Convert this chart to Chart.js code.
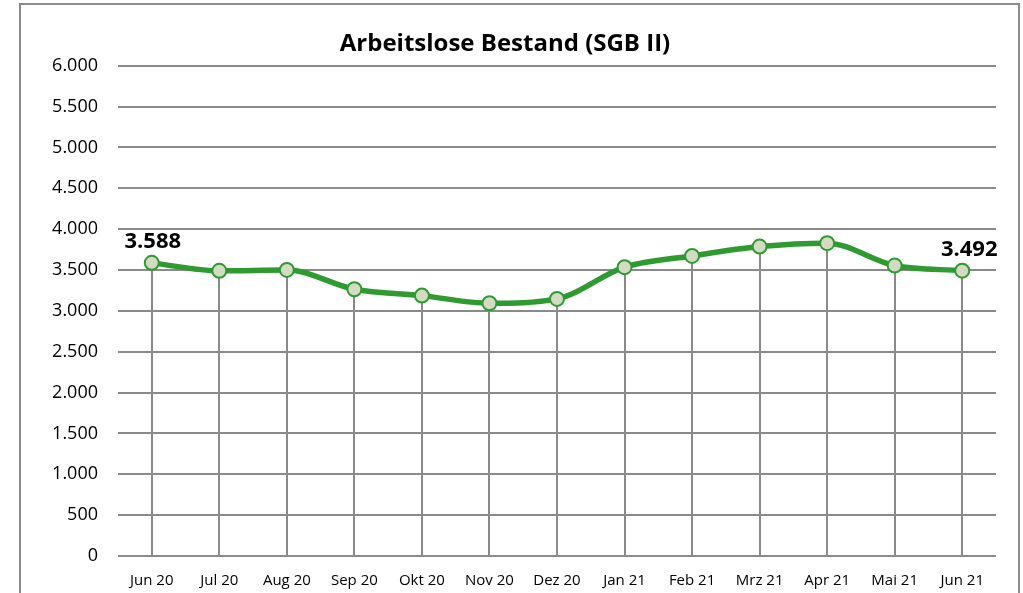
<!DOCTYPE html>
<html>
<head>
<meta charset="utf-8">
<script src="https://cdn.jsdelivr.net/npm/chart.js@4"></script>
<style>
  html, body { margin: 0; padding: 0; background: #fff; overflow: hidden; }
  #frame { position: absolute; left: 19px; top: 3px; width: 997px; height: 640px; border: 2px solid #8a8a8a; }
  #wrap { position: absolute; left: 0; top: 0; width: 1023px; height: 593px; }
</style>
</head>
<body>
<div id="frame"></div>
<div id="wrap"><canvas id="chart" width="1023" height="593"></canvas></div>
<script>
const monate = ['Jun 20', 'Jul 20', 'Aug 20', 'Sep 20', 'Okt 20', 'Nov 20', 'Dez 20', 'Jan 21', 'Feb 21', 'Mrz 21', 'Apr 21', 'Mai 21', 'Jun 21'];
const bestand = [3588, 3490, 3502, 3265, 3187, 3094, 3147, 3535, 3673, 3787, 3829, 3555, 3492];
const labelIndex = [0, 12];

const gridGrau = '#8a8a8a';
const gruen = '#2e9a30';

const fmt = v => v.toLocaleString('de-DE');

// Lotlinien von jedem Punkt bis zur x-Achse
const dropLines = {
    id: 'dropLines',
    beforeDatasetsDraw(chart) {
        const c = chart.ctx;
        const bottom = chart.chartArea.bottom;
        c.save();
        c.strokeStyle = gridGrau;
        c.lineWidth = 2;
        chart.getDatasetMeta(0).data.forEach(p => {
            c.beginPath();
            c.moveTo(Math.round(p.x), p.y);
            c.lineTo(Math.round(p.x), bottom);
            c.stroke();
        });
        c.restore();
    }
};

// Wertbeschriftung für ersten und letzten Monat
const valueLabels = {
    id: 'valueLabels',
    afterDatasetsDraw(chart) {
        const c = chart.ctx;
        const meta = chart.getDatasetMeta(0);
        c.save();
        c.font = 'bold 22px "Open Sans"';
        c.fillStyle = '#000';
        c.textAlign = 'center';
        c.textBaseline = 'middle';
        labelIndex.forEach(i => {
            const p = meta.data[i];
            const dx = i === labelIndex[labelIndex.length - 1] ? 7 : 1;
            c.fillText(fmt(bestand[i]), p.x + dx, p.y - 21);
        });
        c.restore();
    }
};

new Chart(document.getElementById('chart'), {
    type: 'line',
    data: {
        labels: monate,
        datasets: [{
            data: bestand,
            borderColor: gruen,
            borderWidth: 5.5,
            cubicInterpolationMode: 'monotone',
            tension: 0.4,
            pointRadius: 7,
            pointBorderWidth: 2,
            pointBackgroundColor: '#d3dcc3',
            pointBorderColor: gruen
        }]
    },
    options: {
        responsive: false,
        animation: false,
        layout: { padding: { left: 14, right: 27, top: 0, bottom: 0 } },
        plugins: {
            legend: { display: false },
            tooltip: { enabled: false },
            title: {
                display: true,
                text: 'Arbeitslose Bestand (SGB II)',
                color: '#000',
                font: { family: '"Open Sans"', size: 24, weight: 'bold' },
                padding: { top: 30, bottom: 7 }
            }
        },
        scales: {
            x: {
                offset: true,
                afterFit(scale) { scale.height = 37; },
                grid: { display: false },
                border: { display: false },
                ticks: { color: '#000', font: { family: '"Open Sans"', size: 15 }, padding: 8, maxRotation: 0 }
            },
            y: {
                min: 0,
                max: 6000,
                afterFit(scale) { scale.width = 104; },
                grid: { color: gridGrau, lineWidth: 2, drawTicks: false },
                border: { display: false },
                ticks: {
                    stepSize: 500,
                    color: '#000',
                    padding: 20,
                    font: { family: '"Open Sans"', size: 18 },
                    callback: v => fmt(v)
                }
            }
        }
    },
    plugins: [dropLines, valueLabels]
});
</script>
</body>
</html>
